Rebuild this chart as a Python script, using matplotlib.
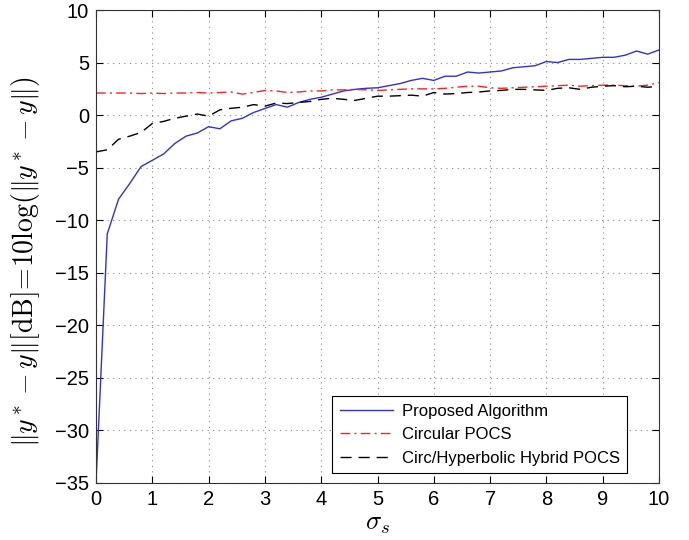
import numpy as np
import matplotlib
matplotlib.use("Agg")
import matplotlib.pyplot as plt

plt.rcParams['font.family'] = ['Liberation Sans', 'DejaVu Sans']
plt.rcParams['mathtext.fontset'] = 'cm'

sigma = np.round(np.arange(0, 10.01, 0.2), 1)

proposed = [-35, -11.3, -8.0, -6.5, -4.9, -4.3, -3.7, -2.7, -2.0, -1.7,
            -1.1, -1.3, -0.55, -0.3, 0.25, 0.63, 1.0, 0.76, 1.2, 1.5,
            1.7, 2.0, 2.3, 2.45, 2.55, 2.6, 2.8, 3.0, 3.3, 3.5,
            3.3, 3.7, 3.7, 4.1, 4.0, 4.1, 4.2, 4.5, 4.6, 4.7,
            5.1, 5.0, 5.3, 5.3, 5.4, 5.5, 5.5, 5.7, 6.1, 5.8, 6.2]

circular = [2.1, 2.1, 2.1, 2.1, 2.05, 2.1, 2.05, 2.1, 2.1, 2.15,
            2.1, 2.15, 2.2, 2.0, 2.15, 2.35, 2.3, 2.15, 2.2, 2.3,
            2.3, 2.4, 2.4, 2.45, 2.4, 2.35, 2.4, 2.45, 2.5, 2.5,
            2.5, 2.55, 2.65, 2.75, 2.75, 2.6, 2.55, 2.6, 2.65, 2.7,
            2.75, 2.8, 2.85, 2.75, 2.8, 2.85, 2.85, 2.8, 2.75, 2.85, 3.1]

hybrid = [-3.5, -3.3, -2.3, -2.0, -1.65, -0.8, -0.6, -0.3, -0.1, 0.1,
          -0.1, 0.5, 0.65, 0.75, 1.0, 0.85, 1.15, 1.1, 1.2, 1.3,
          1.5, 1.6, 1.5, 1.4, 1.6, 1.8, 1.8, 1.85, 1.9, 1.8,
          2.15, 2.0, 2.05, 2.15, 2.2, 2.3, 2.35, 2.45, 2.45, 2.4,
          2.35, 2.55, 2.6, 2.45, 2.65, 2.75, 2.8, 2.7, 2.75, 2.65, 2.75]

labels = ['Proposed Algorithm', 'Circular POCS', 'Circ/Hyperbolic Hybrid POCS']

W, H = 689, 540
fig = plt.figure(figsize=(W / 100, H / 100), dpi=100)
ax = fig.add_axes([96 / W, 1 - 483 / H, (659 - 96) / W, (483 - 10) / H])

ax.plot(sigma, proposed, color='#3030e0', lw=1.0, label=labels[0])
ax.plot(sigma, circular, color='#ff2020', lw=1.0, ls=(0, (7, 3, 1.5, 3)), label=labels[1])
ax.plot(sigma, hybrid, color='black', lw=1.0, ls=(0, (8, 5)), label=labels[2])

ax.set_xlim(0, 10)
ax.set_ylim(-35, 10)
ax.set_xticks(range(0, 11))
ax.set_yticks(range(-35, 11, 5))
ax.set_yticklabels(['\u2212' + str(-v) if v < 0 else str(v) for v in range(-35, 11, 5)])
ax.tick_params(direction='in', top=True, right=True, labelsize=14.5, length=5, width=0.8, pad=5)
ax.grid(True, ls=(0, (1, 4)), color='#888888', lw=0.8)
for s in ax.spines.values():
    s.set_linewidth(0.8)
    s.set_color('#333333')

ax.set_xlabel(r'$\sigma_s$', fontsize=19, labelpad=2)
ax.set_ylabel(r'$\Vert y^* - y\Vert[\mathrm{dB}]\!=\!10\log(\Vert y^* - y\Vert)$', fontsize=20)
ax.yaxis.set_label_coords(-54 / (659 - 96), (483 - 262) / (483 - 10))

leg = ax.legend(loc='lower right', bbox_to_anchor=(627 / W, 1 - 473 / H), bbox_transform=fig.transFigure,
                fontsize=12, frameon=True, fancybox=False, edgecolor='black', framealpha=1,
                handlelength=3.2, borderpad=0.45, labelspacing=0.5, handletextpad=0.5,
                borderaxespad=0)
leg.get_frame().set_linewidth(0.8)

fig.savefig('out.png', dpi=100)
